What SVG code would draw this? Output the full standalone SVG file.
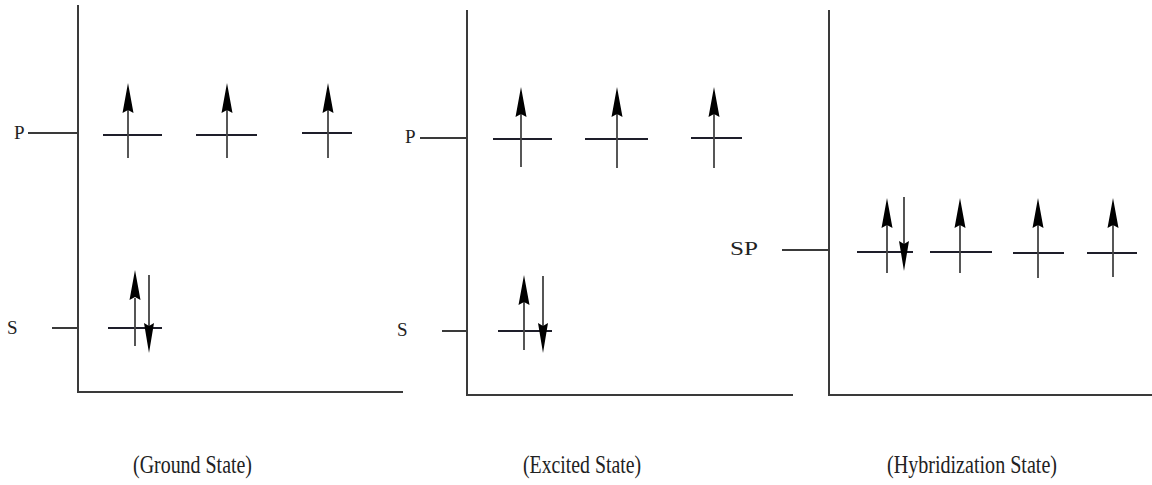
<svg xmlns="http://www.w3.org/2000/svg" xmlns:xlink="http://www.w3.org/1999/xlink" width="1152" height="485" viewBox="0 0 1152 485">
<style>
.axis{fill:none;stroke:#3a3a3a;stroke-width:2}
.lvl{fill:none;stroke:#1e1e2a;stroke-width:2}
.spin{fill:none;stroke:#444;stroke-width:1.8}
.head{fill:#000}
.lbl{font-family:"Liberation Serif","Times New Roman",serif;font-size:19px;fill:#222}
.cap{font-family:"Liberation Serif","Times New Roman",serif;font-size:25px;fill:#222}
</style>
<defs>
<path id="hu" class="head" d="M0,0 L5.5,30 L0,27 L-5.5,30 Z"/>
<path id="hd" class="head" d="M0,0 L5,-30 L0,-27 L-5,-30 Z"/>
</defs>
<rect width="1152" height="485" fill="#fff"/>

<g id="ground-state">
<path class="axis" d="M78,5 V392 H403"/>
<path class="axis" d="M28,133 H78 M52,328 H78"/>
<text class="lbl" x="14" y="139">P</text>
<text class="lbl" x="7" y="334">S</text>
<g id="g-p1"><path class="lvl" d="M103,135 H162"/><path class="spin" d="M128,158 V108"/><use href="#hu" x="128" y="83"/></g>
<g id="g-p2"><path class="lvl" d="M196,135 H257"/><path class="spin" d="M227,158 V108"/><use href="#hu" x="227" y="83"/></g>
<g id="g-p3"><path class="lvl" d="M302,133 H352"/><path class="spin" d="M328,158 V108"/><use href="#hu" x="328" y="83"/></g>
<g id="g-s"><path class="lvl" d="M108,328 H162"/><path class="spin" d="M135,346 V298 M149,275 V328"/><use href="#hu" x="135" y="270"/><use href="#hd" x="149" y="353"/></g>
<text class="cap" x="133" y="473" textLength="119" lengthAdjust="spacingAndGlyphs">(Ground State)</text>
</g>

<g id="excited-state">
<path class="axis" d="M467,10 V395 H793"/>
<path class="axis" d="M420,138 H467 M442,331 H467"/>
<text class="lbl" x="405" y="143">P</text>
<text class="lbl" x="397" y="336">S</text>
<g id="e-p1"><path class="lvl" d="M493,139 H552"/><path class="spin" d="M521,167 V112"/><use href="#hu" x="521" y="87"/></g>
<g id="e-p2"><path class="lvl" d="M585,139 H648"/><path class="spin" d="M617,168 V112"/><use href="#hu" x="617" y="87"/></g>
<g id="e-p3"><path class="lvl" d="M691,138 H742"/><path class="spin" d="M714,168 V112"/><use href="#hu" x="714" y="87"/></g>
<g id="e-s"><path class="lvl" d="M498,331 H552"/><path class="spin" d="M524,350 V300 M543,276 V330"/><use href="#hu" x="524" y="275"/><use href="#hd" x="543" y="353"/></g>
<text class="cap" x="523" y="473" textLength="118" lengthAdjust="spacingAndGlyphs">(Excited State)</text>
</g>

<g id="hybridization-state">
<path class="axis" d="M829,10 V395 H1152"/>
<path class="axis" d="M782,250 H829"/>
<text class="lbl" x="730" y="255" textLength="28" lengthAdjust="spacingAndGlyphs">SP</text>
<g id="h-sp1"><path class="lvl" d="M857,252 H913"/><path class="spin" d="M887,273 V225 M904,197 V248"/><use href="#hu" x="887" y="198"/><use href="#hd" x="904" y="271"/></g>
<g id="h-sp2"><path class="lvl" d="M930,252 H992"/><path class="spin" d="M960,273 V225"/><use href="#hu" x="960" y="198"/></g>
<g id="h-sp3"><path class="lvl" d="M1013,253 H1064"/><path class="spin" d="M1038,278 V225"/><use href="#hu" x="1038" y="198"/></g>
<g id="h-sp4"><path class="lvl" d="M1087,253 H1137"/><path class="spin" d="M1113,277 V225"/><use href="#hu" x="1113" y="198"/></g>
<text class="cap" x="887" y="473" textLength="170" lengthAdjust="spacingAndGlyphs">(Hybridization State)</text>
</g>
</svg>
